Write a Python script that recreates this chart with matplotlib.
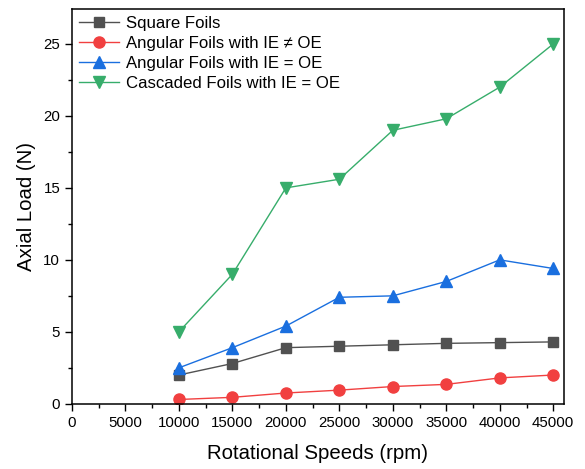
import matplotlib
matplotlib.use("Agg")
import matplotlib.pyplot as plt
from matplotlib.ticker import MultipleLocator

plt.rcParams['font.family'] = ['Liberation Sans', 'DejaVu Sans']

# data
speeds = [10000, 15000, 20000, 25000, 30000, 35000, 40000, 45000]
square_foils = [2.0, 2.8, 3.9, 4.0, 4.1, 4.2, 4.25, 4.3]
angular_ie_ne_oe = [0.3, 0.45, 0.75, 0.95, 1.2, 1.35, 1.8, 2.0]
angular_ie_eq_oe = [2.5, 3.9, 5.4, 7.4, 7.5, 8.5, 10.0, 9.4]
cascaded_ie_eq_oe = [5.0, 9.0, 15.0, 15.6, 19.0, 19.8, 22.0, 25.0]

labels = ["Square Foils", "Angular Foils with IE \u2260 OE",
          "Angular Foils with IE = OE", "Cascaded Foils with IE = OE"]

fig = plt.figure(figsize=(5.85, 4.69), dpi=100)
ax = fig.add_axes([0.123, 0.139, 0.841, 0.841])

ax.plot(speeds, square_foils, color="#515151", marker="s", ms=7, lw=1, label=labels[0])
ax.plot(speeds, angular_ie_ne_oe, color="#F14040", marker="o", ms=8, lw=1, label=labels[1])
ax.plot(speeds, angular_ie_eq_oe, color="#1A6FDF", marker="^", ms=9, lw=1, label=labels[2])
ax.plot(speeds, cascaded_ie_eq_oe, color="#37AD6B", marker="v", ms=9, lw=1, label=labels[3])

ax.set_xlim(0, 46000)
ax.set_ylim(0, 27.4)
ax.xaxis.set_major_locator(MultipleLocator(5000))
ax.xaxis.set_minor_locator(MultipleLocator(2500))
ax.yaxis.set_major_locator(MultipleLocator(5))
ax.yaxis.set_minor_locator(MultipleLocator(2.5))
ax.tick_params(which="major", direction="out", length=5, width=1, labelsize=10.8)
ax.tick_params(which="minor", direction="out", length=3, width=1)
for s in ax.spines.values():
    s.set_linewidth(1.1)

ax.set_xlabel("Rotational Speeds (rpm)", fontsize=14.7, labelpad=10)
ax.set_ylabel("Axial Load (N)", fontsize=14.7, labelpad=5)

ax.legend(loc="upper left", frameon=False, fontsize=12.1, handlelength=2.4,
          borderaxespad=0.1, labelspacing=0.3, handletextpad=0.4,
          borderpad=0.3)

fig.savefig("out.png", dpi=100)
